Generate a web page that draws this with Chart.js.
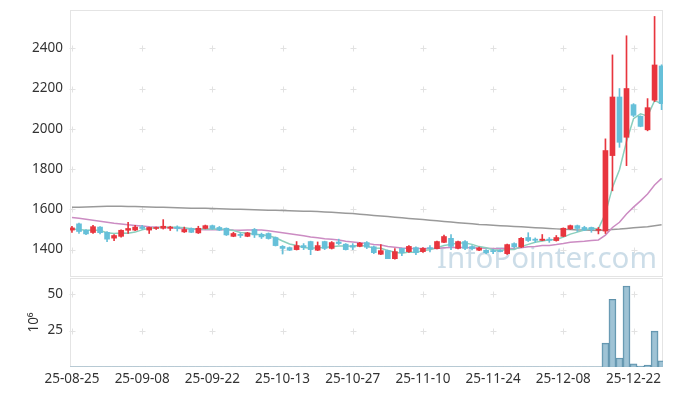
<!DOCTYPE html>
<html><head><meta charset="utf-8">
<script src="https://cdn.jsdelivr.net/npm/chart.js@4"></script>
<style>
html,body{margin:0;padding:0;background:#fff;}
#wrap{position:relative;width:673px;height:396px;}
#c1{position:absolute;left:0;top:0;}
#c2{position:absolute;left:0;top:277px;}
</style></head><body>
<div id="wrap"><canvas id="c1" width="673" height="278"></canvas><canvas id="c2" width="673" height="119"></canvas></div>
<script>
const dates = ["25-08-25","25-08-26","25-08-27","25-08-28","25-08-29",
"25-09-01","25-09-02","25-09-03","25-09-04","25-09-05",
"25-09-08","25-09-09","25-09-10","25-09-11","25-09-12",
"25-09-15","25-09-16","25-09-17","25-09-18","25-09-19",
"25-09-22","25-09-23","25-09-24","25-09-25","25-09-26",
"25-09-29","25-09-30","25-10-01","25-10-02","25-10-10",
"25-10-13","25-10-14","25-10-15","25-10-16","25-10-17",
"25-10-20","25-10-21","25-10-22","25-10-23","25-10-24",
"25-10-27","25-10-28","25-10-29","25-10-30","25-10-31",
"25-11-03","25-11-04","25-11-05","25-11-06","25-11-07",
"25-11-10","25-11-11","25-11-12","25-11-13","25-11-14",
"25-11-17","25-11-18","25-11-19","25-11-20","25-11-21",
"25-11-24","25-11-25","25-11-26","25-11-27","25-11-28",
"25-12-01","25-12-02","25-12-03","25-12-04","25-12-05",
"25-12-08","25-12-09","25-12-10","25-12-11","25-12-12",
"25-12-15","25-12-16","25-12-17","25-12-18","25-12-19",
"25-12-22","25-12-23","25-12-24","25-12-26","25-12-29"];

const open = [1497,1528,1496,1485,1512,1486,1457,1466,1496,1497,
1513,1497,1505,1506,1506,1512,1488,1505,1483,1505,
1519,1510,1506,1466,1476,1466,1500,1476,1480,1460,
1416,1410,1400,1420,1440,1397,1440,1406,1438,1427,
1420,1416,1435,1414,1377,1395,1355,1406,1390,1410,
1390,1410,1405,1436,1456,1406,1440,1415,1397,1397,
1395,1395,1380,1430,1413,1460,1452,1446,1452,1445,
1466,1503,1519,1510,1510,1496,1492,1867,2158,1958,
2120,2062,1995,2142,2312];
const high = [1516,1532,1500,1520,1515,1490,1475,1498,1536,1520,
1520,1512,1512,1549,1516,1518,1512,1508,1516,1522,
1522,1515,1508,1486,1483,1486,1505,1482,1483,1463,
1420,1413,1440,1430,1442,1438,1442,1440,1452,1430,
1430,1436,1440,1418,1425,1398,1405,1408,1420,1414,
1410,1420,1442,1472,1475,1442,1445,1420,1412,1400,
1402,1400,1428,1434,1460,1484,1458,1475,1460,1470,
1508,1522,1522,1516,1512,1510,1950,2367,2200,2462,
2125,2065,2150,2558,2318];
const low = [1485,1480,1474,1480,1478,1440,1445,1462,1480,1494,
1500,1480,1500,1502,1495,1492,1485,1484,1480,1503,
1500,1494,1470,1464,1460,1464,1460,1455,1452,1418,
1378,1395,1398,1400,1375,1395,1400,1403,1425,1398,
1400,1414,1405,1380,1375,1355,1352,1370,1386,1375,
1386,1388,1403,1434,1400,1404,1400,1398,1395,1380,
1380,1388,1376,1408,1410,1440,1436,1444,1436,1442,
1464,1500,1490,1494,1486,1478,1480,1692,1908,1817,
2060,2010,1990,2135,2095];
const close = [1508,1490,1478,1514,1484,1452,1470,1496,1505,1512,
1505,1510,1510,1516,1512,1505,1500,1486,1506,1519,
1505,1497,1473,1480,1470,1483,1473,1463,1455,1420,
1406,1397,1420,1410,1400,1420,1406,1435,1430,1400,
1412,1432,1412,1385,1395,1355,1390,1385,1416,1385,
1406,1405,1440,1465,1416,1440,1406,1405,1408,1385,
1390,1390,1425,1414,1456,1445,1446,1452,1446,1460,
1506,1519,1505,1497,1500,1500,1892,2158,1933,2200,
2067,2012,2105,2317,2125];
// volume in millions of shares
const volume = [0.1,0.12,0.1,0.14,0.1,0.12,0.1,0.1,0.15,0.1,
0.1,0.1,0.08,0.13,0.1,0.1,0.1,0.1,0.11,0.1,
0.1,0.08,0.1,0.1,0.08,0.1,0.1,0.08,0.08,0.12,
0.12,0.1,0.1,0.08,0.12,0.1,0.1,0.1,0.1,0.1,
0.08,0.1,0.1,0.1,0.1,0.12,0.12,0.1,0.1,0.1,
0.1,0.08,0.12,0.14,0.12,0.1,0.1,0.08,0.08,0.08,
0.08,0.08,0.12,0.08,0.12,0.1,0.08,0.1,0.08,0.1,
0.14,0.12,0.1,0.08,0.08,0.1,16.4,46.6,6.2,55.7,
2.1,0.7,1.4,24.7,4.3];
const ma5 = [1502,1500,1496,1498,1495,1484,1480,1483,1481,1487,
1498,1506,1508,1511,1511,1511,1509,1504,1502,1503,
1503,1503,1500,1495,1485,1481,1476,1474,1469,1459,
1443,1428,1420,1411,1407,1409,1411,1414,1418,1418,
1417,1422,1417,1408,1407,1396,1387,1382,1388,1386,
1396,1399,1410,1420,1426,1433,1433,1426,1415,1409,
1399,1396,1400,1401,1415,1426,1437,1443,1449,1450,
1462,1477,1487,1497,1505,1504,1579,1709,1797,1937,
2050,2074,2063,2140,2125];
const ma20 = [1560,1556,1551,1546,1541,1536,1531,1527,1523,1520,
1517,1514,1512,1510,1508,1506,1504,1502,1500,1499,
1499,1499,1499,1497,1496,1498,1498,1497,1494,1489,
1484,1479,1474,1469,1463,1459,1454,1452,1448,1442,
1438,1434,1431,1426,1423,1416,1412,1408,1406,1405,
1405,1405,1406,1409,1410,1411,1411,1409,1408,1407,
1406,1404,1405,1406,1409,1414,1416,1420,1421,1425,
1430,1436,1439,1441,1445,1448,1472,1510,1536,1577,
1611,1642,1676,1721,1754];
const ma60 = [1610,1611,1612,1613,1614,1615,1615,1615,1614,1614,
1613,1612,1611,1610,1609,1608,1607,1606,1606,1605,
1604,1603,1602,1601,1600,1599,1598,1597,1596,1595,
1594,1593,1592,1591,1590,1589,1587,1585,1583,1581,
1579,1576,1573,1570,1567,1564,1561,1558,1555,1552,
1549,1546,1543,1540,1537,1534,1531,1528,1525,1523,
1521,1519,1517,1515,1513,1511,1509,1507,1505,1503,
1501,1500,1498,1497,1496,1495,1497,1500,1502,1505,
1508,1511,1514,1519,1524];
const dateTickIdx = [0,10,20,30,40,50,60,70,80];
const priceTicks = [1400,1600,1800,2000,2200,2400];
const volTicks = [0,25,50];

const UP = '#e8353e', DOWN = '#66c0d9';
const FONT = {family:"'Noto Sans','Open Sans',sans-serif", size:13.5};
const TXT = '#333';
const X_MIN = -0.28, X_MAX = 84.2;
const idx = dates.map((d,i)=>i);
const colors = idx.map(i => close[i] >= open[i] ? UP : DOWN);

function noPadY(s){ s.width = 70; s.paddingTop = 0; s.paddingBottom = 0; }
function framePlugin(yTicks){
  return {
    id:'frame',
    beforeDatasetsDraw(chart){
      const {ctx, chartArea:a, scales} = chart;
      ctx.save();
      ctx.strokeStyle = '#e2e2e2'; ctx.lineWidth = 1;
      for (const xv of dateTickIdx){
        const px = Math.round(scales.x.getPixelForValue(xv))+0.5;
        for (const yv of yTicks){
          const py = Math.round(scales.y.getPixelForValue(yv))+0.5;
          if (py < a.top || py > a.bottom) continue;
          ctx.beginPath();
          ctx.moveTo(px-3,py); ctx.lineTo(px+3,py);
          ctx.moveTo(px,py-3); ctx.lineTo(px,py+3);
          ctx.stroke();
        }
      }
      ctx.strokeStyle = '#e4e4e4';
      ctx.strokeRect(Math.round(a.left)+0.5, Math.round(a.top)+0.5, Math.round(a.width)-1, Math.round(a.height)-1);
      ctx.restore();
    }
  };
}
const watermark = {
  id:'wm',
  beforeDatasetsDraw(chart){
    const {ctx, chartArea:a} = chart;
    ctx.save();
    ctx.font = "100px 'Noto Sans', sans-serif";
    const w = ctx.measureText('InfoPointer.com').width;
    const size = 100*220/w;
    ctx.font = size+"px 'Noto Sans', sans-serif";
    ctx.fillStyle = 'rgba(170,198,216,0.6)';
    ctx.textAlign = 'right'; ctx.textBaseline = 'alphabetic';
    ctx.fillText('InfoPointer.com', a.right-6, a.bottom-9);
    ctx.restore();
  }
};

new Chart(document.getElementById('c1'), {
  type:'bar',
  data:{datasets:[
    {type:'line', data: idx.map(i=>({x:i,y:ma60[i]})), borderColor:'#9a9a9a', borderWidth:1.5, pointRadius:0, order:5},
    {type:'line', data: idx.map(i=>({x:i,y:ma20[i]})), borderColor:'#cc8cc3', borderWidth:1.5, pointRadius:0, order:4},
    {type:'line', data: idx.map(i=>({x:i,y:ma5[i]})), borderColor:'#8acfbd', borderWidth:1.5, pointRadius:0, order:3},
    {type:'bar', data: idx.map(i=>({x:i,y:[low[i],high[i]]})), backgroundColor: colors, barThickness:1, grouped:false, order:1},
    {type:'bar', data: idx.map(i=>({x:i,y:[open[i],close[i]]})), backgroundColor: colors, barThickness:5, grouped:false, minBarLength:1, order:0}
  ]},
  options:{
    responsive:false, animation:false,
    layout:{padding:{left:0,right:10,top:10,bottom:1}},
    plugins:{legend:{display:false}, tooltip:{enabled:false}},
    scales:{
      x:{type:'linear', min:X_MIN, max:X_MAX, offset:false, display:false},
      y:{min:1264, max:2590,
         afterBuildTicks: s => { s.ticks = priceTicks.map(v=>({value:v})); },
         grid:{display:false, drawTicks:false}, border:{display:false},
         ticks:{padding:7, font:FONT, color:TXT, callback: v => String(v)},
         afterFit: noPadY}
    }
  },
  plugins:[framePlugin(priceTicks), watermark]
});

new Chart(document.getElementById('c2'), {
  type:'bar',
  data:{datasets:[
    {data: idx.map(i=>({x:i,y:volume[i]})), backgroundColor:'rgba(135,180,202,0.8)', borderColor:'#5e91aa', borderWidth:1, barPercentage:1, categoryPercentage:1, grouped:false}
  ]},
  options:{
    responsive:false, animation:false,
    layout:{padding:{left:0,right:10,top:1,bottom:0}},
    plugins:{legend:{display:false}, tooltip:{enabled:false}},
    scales:{
      x:{type:'linear', min:X_MIN, max:X_MAX, offset:false,
         afterBuildTicks: s => { s.ticks = dateTickIdx.map(v=>({value:v})); },
         ticks:{callback: v => dates[v], font:FONT, color:TXT, padding:4, maxRotation:0, autoSkip:false},
         grid:{display:false, drawTicks:false}, border:{display:false},
         afterFit: s => { s.height = 29; s.paddingLeft = 0; s.paddingRight = 0; }},
      y:{min:0, max:61.2,
         afterBuildTicks: s => { s.ticks = volTicks.map(v=>({value:v})); },
         ticks:{padding:7, font:FONT, color:TXT, callback: v => v === 0 ? '' : String(v)},
         title:{display:true, text:'10⁶', font:FONT, color:TXT, padding:{top:26,bottom:0}},
         grid:{display:false, drawTicks:false}, border:{display:false},
         afterFit: noPadY}
    }
  },
  plugins:[framePlugin(volTicks)]
});
</script>
</body></html>
